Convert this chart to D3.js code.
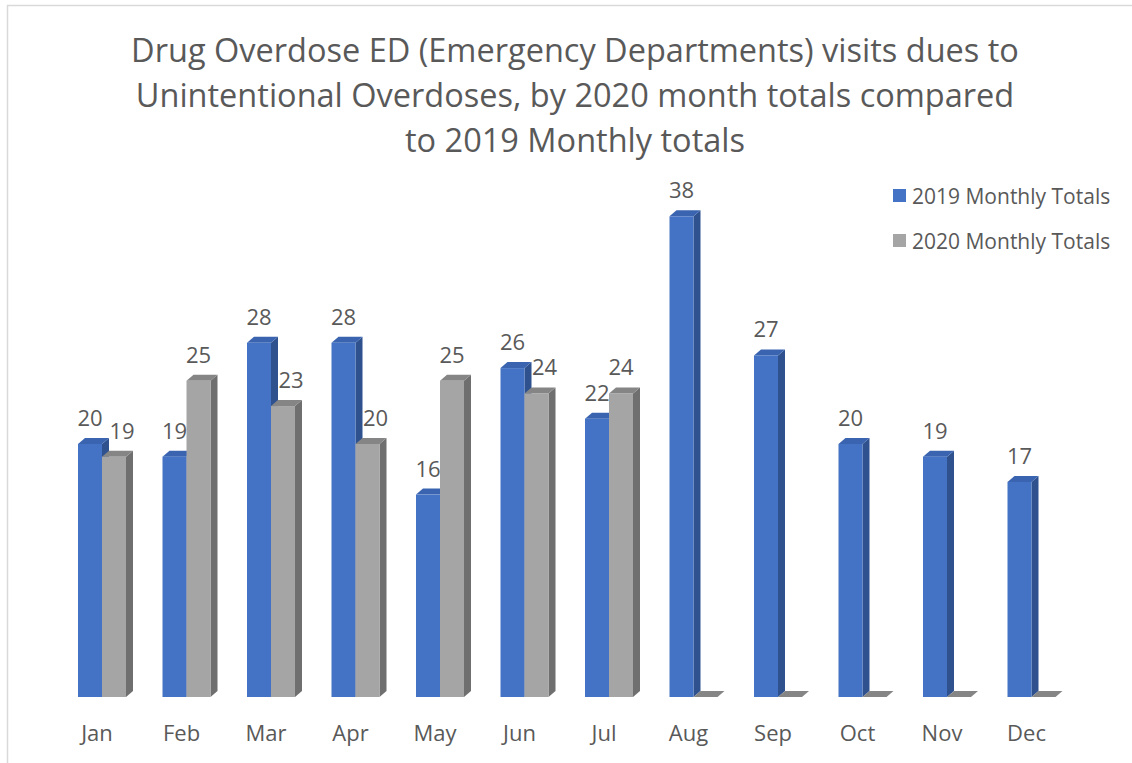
<!DOCTYPE html>
<html>
<head>
<meta charset="utf-8">
<script src="https://cdn.jsdelivr.net/npm/d3@7"></script>
<style>
  body { margin: 0; background: #fff; }
  text { font-family: "Open Sans", sans-serif; fill: #595959; }
</style>
</head>
<body>
<script>
const months = ["Jan", "Feb", "Mar", "Apr", "May", "Jun", "Jul", "Aug", "Sep", "Oct", "Nov", "Dec"];
const seriesNames = ["2019 Monthly Totals", "2020 Monthly Totals"];
const totals2019 = [20, 19, 28, 28, 16, 26, 22, 38, 27, 20, 19, 17];
const totals2020 = [19, 25, 23, 20, 25, 24, 24, 0, 0, 0, 0, 0];
const titleLines = [
  "Drug Overdose ED (Emergency Departments) visits dues to",
  "Unintentional Overdoses, by 2020 month totals compared",
  "to 2019 Monthly totals",
];

const canvass = { width: 1132, height: 763 };
const depth = { dx: 7, dy: 6 };
const colors = [
  { front: "#4472c4", side: "#2f528f", top: "#3a64b0" },
  { front: "#a5a5a5", side: "#6f6f6f", top: "#858585" },
];

const svg = d3
  .select("body")
  .append("svg")
  .attr("width", canvass.width)
  .attr("height", canvass.height);

// chart border
svg
  .append("rect")
  .attr("x", 7.5)
  .attr("y", 5.5)
  .attr("width", 1300)
  .attr("height", 900)
  .attr("fill", "none")
  .attr("stroke", "#d9d9d9")
  .attr("stroke-width", 1.5);

// title
svg
  .append("text")
  .attr("text-anchor", "middle")
  .style("font-size", "32.5px")
  .selectAll("tspan")
  .data(titleLines)
  .enter()
  .append("tspan")
  .attr("x", 575)
  .attr("y", (d, i) => 62 + i * 45)
  .text((d) => d);

const x = d3.scaleBand().domain(months).range([54.75, 1068.75]);
const sub = d3.scaleBand().domain([0, 1]).range([-19, 29]);
const y = d3.scaleLinear().domain([0, 40]).range([697, 191]);

const bars = [];
months.forEach((m, i) => {
  [totals2019[i], totals2020[i]].forEach((v, s) => {
    bars.push({ month: m, series: s, value: v, other: s ? totals2019[i] : totals2020[i] });
  });
});

const barG = svg.append("g");
const g = barG
  .selectAll("g")
  .data(bars)
  .enter()
  .append("g");

const x0 = (d) => x(d.month) + x.bandwidth() / 2 + sub(d.series);
const x1 = (d) => x0(d) + sub.bandwidth();

// side face
g.append("polygon")
  .attr("points", (d) =>
    [
      [x1(d), y(0)],
      [x1(d) + depth.dx, y(0) - depth.dy],
      [x1(d) + depth.dx, y(d.value) - depth.dy],
      [x1(d), y(d.value)],
    ].join(" ")
  )
  .attr("fill", (d) => colors[d.series].side);

// top face
g.append("polygon")
  .attr("points", (d) =>
    [
      [x0(d), y(d.value)],
      [x1(d), y(d.value)],
      [x1(d) + depth.dx, y(d.value) - depth.dy],
      [x0(d) + depth.dx, y(d.value) - depth.dy],
    ].join(" ")
  )
  .attr("fill", (d) => colors[d.series].top);

// front face
g.append("rect")
  .attr("x", x0)
  .attr("y", (d) => y(d.value))
  .attr("width", sub.bandwidth())
  .attr("height", (d) => y(0) - y(d.value))
  .attr("fill", (d) => colors[d.series].front);

// data labels
const labels = svg
  .append("g")
  .selectAll("text")
  .data(bars.filter((d) => d.value > 0))
  .enter()
  .append("text")
  .attr("x", (d) => x0(d) + sub.bandwidth() / 2)
  .attr("y", (d) => y(d.value) - 18)
  .attr("text-anchor", "middle")
  .style("font-size", "22px")
  .text((d) => d.value);

// a 2020 label lower than the 2019 bar is pushed clear of that bar's side
labels.each(function (d) {
  if (d.series !== 1 || d.value >= d.other) return;
  const b = this.getBBox();
  const sideRight = x0(d) + depth.dx + 0.5;
  const shift = sideRight - b.x;
  if (shift > 0) {
    d3.select(this).attr("x", +d3.select(this).attr("x") + shift);
  }
});

// category axis
const axis = svg
  .append("g")
  .attr("transform", `translate(0,${y(0)})`)
  .call(d3.axisBottom(x).tickSize(0).tickPadding(28));
axis.select(".domain").remove();
axis
  .selectAll("text")
  .style("font-size", "22px")
  .style("font-family", '"Open Sans", sans-serif')
  .attr("fill", "#595959");

// legend
const legend = svg
  .append("g")
  .selectAll("g")
  .data(seriesNames)
  .enter()
  .append("g")
  .attr("transform", (d, i) => `translate(893,${189 + i * 45})`);
legend
  .append("rect")
  .attr("width", 13)
  .attr("height", 13)
  .attr("fill", (d, i) => colors[i].front);
legend
  .append("text")
  .attr("x", 19)
  .attr("y", 14.5)
  .style("font-size", "21px")
  .text((d) => d);
</script>
</body>
</html>
